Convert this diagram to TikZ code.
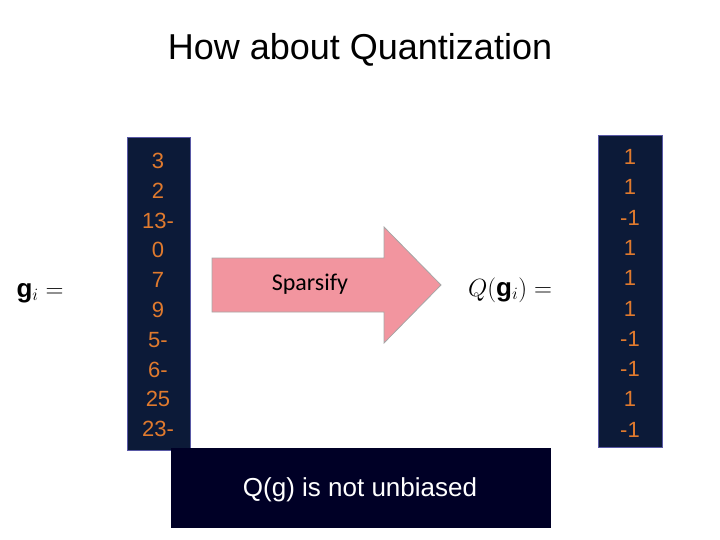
\documentclass[tikz,border=0pt]{standalone}
\usepackage{fontspec}
\setmainfont{Liberation Sans}
\newfontfamily\carl{Carlito}
\usepackage{amsmath}
\begin{document}
\begin{tikzpicture}[x=1pt,y=-1pt,
  vbox/.style={fill=black!10!blue!20!black, draw=blue!40!gray, line width=1pt},
  numtxt/.style={text=orange!80!red!90!yellow, font=\fontsize{22}{24}\selectfont}]
\definecolor{navy}{HTML}{0C1A38}
\definecolor{orng}{HTML}{E07A2E}
\definecolor{pinkfill}{HTML}{F2959F}
\useasboundingbox (0,0) rectangle (720,540);
\node (title) at (360,50) {\fontsize{36}{40}\selectfont How about Quantization};
\filldraw[fill=navy, draw=blue!30!gray, line width=1pt] (127,138) rectangle (190,450);
\node (lbl) at (40,293) {\fontsize{26}{30}\selectfont $\mathbf{g}_i =$};
\foreach \v [count=\i from 0] in {3,2,13-,0,7,9,5-,6-,25,23-}
  \node[text=orng, font=\fontsize{22}{24}\selectfont] (l\i) at (158,161+29.8*\i) {\v};
\filldraw[fill=navy, draw=blue!30!gray, line width=1pt] (598,136) rectangle (662,447);
\foreach \v [count=\i from 0] in {1,1,-1,1,1,1,-1,-1,1,-1}
  \node[text=orng, font=\fontsize{22}{24}\selectfont] (r\i) at (630,157+30.3*\i) {\v};
\filldraw[fill=pinkfill, draw=gray!70, line width=0.8pt] (212,258) -- (384,258) -- (384,227) -- (441,285) -- (384,343) -- (384,312) -- (212,312) -- cycle;
\node (sp) at (310,284) {\carl\fontsize{24}{28}\selectfont Sparsify};
\node (q) at (510,290) {\fontsize{26}{30}\selectfont $Q(\mathbf{g}_i) =$};
\fill[fill=black!85!blue] (171,448) rectangle (551,528);
\node[text=white] (qg) at (360,490) {\fontsize{26}{30}\selectfont Q(g) is not unbiased};
\end{tikzpicture}
\end{document}
